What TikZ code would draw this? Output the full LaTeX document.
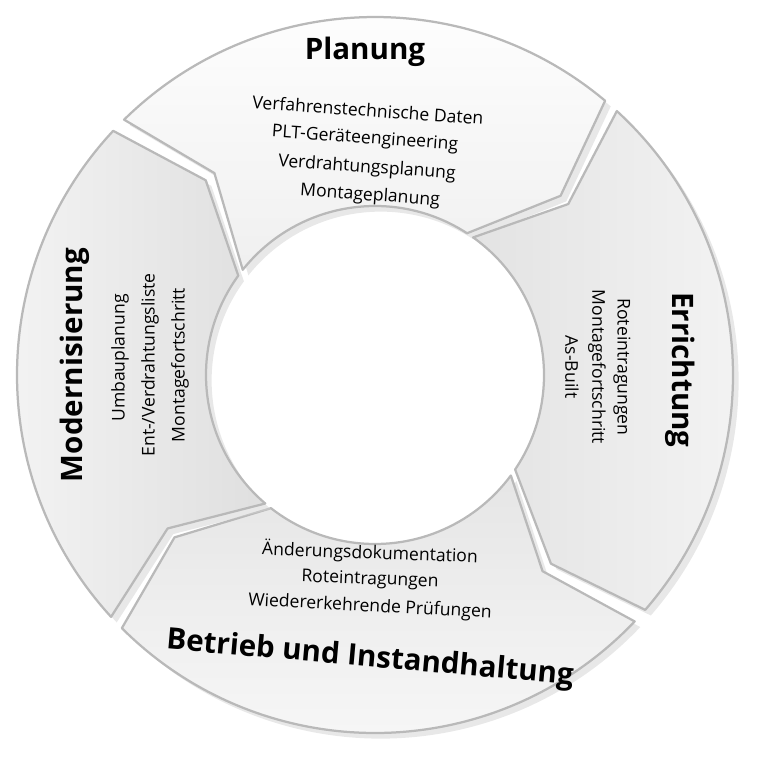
\documentclass[tikz,border=0pt]{standalone}
\usepackage{fontspec}
\setmainfont{Open Sans}
\begin{document}
\tikzset{seg/.style={draw=gray!55,line width=1.6pt,line join=round},
  ttl/.style={font=\fontsize{21}{24}\selectfont\bfseries},
  itm/.style={font=\fontsize{12.5}{15}\selectfont,inner sep=0.5pt}}
\newcommand{\Rout}{358}
\newcommand{\Rmid}{258}
\newcommand{\Rin}{169}
% segment from boundary #1 (start) to boundary #2 (end), clockwise
\newcommand{\segment}[3]{%
  \fill[gray!35,opacity=.5,xshift=4,yshift=-4]
    ({#1+3.5}:\Rout) arc[start angle={#1+3.5},end angle={#2+6},radius=\Rout]
    -- ({#2}:\Rmid) -- ({#2+13}:\Rin)
    arc[start angle={#2+13},end angle={#1+10.5},radius=\Rin]
    -- ({#1-2.5}:\Rmid) -- cycle;
  \draw[seg,#3]
    ({#1+3.5}:\Rout) arc[start angle={#1+3.5},end angle={#2+6},radius=\Rout]
    -- ({#2}:\Rmid) -- ({#2+13}:\Rin)
    arc[start angle={#2+13},end angle={#1+10.5},radius=\Rin]
    -- ({#1-2.5}:\Rmid) -- cycle;}
\begin{tikzpicture}[x=0.025cm,y=0.025cm]
\useasboundingbox (-375,-382) rectangle (385,375);
%segments
\segment{131}{44}{top color=white,bottom color=gray!12}
\segment{44}{-47}{left color=gray!22,right color=gray!8}
\segment{-47}{-141}{top color=gray!20,bottom color=gray!6}
\segment{-141}{-229}{left color=gray!8,right color=gray!25}
%Planung
\node[ttl] (plan) at (-10,323) {Planung};
\node[itm,rotate=-4] (plan1) at (-7,265) {Verfahrenstechnische Daten};
\node[itm,rotate=-4] (plan2) at (-10,236) {PLT-Geräteengineering};
\node[itm,rotate=-4] (plan3) at (-8,207) {Verdrahtungsplanung};
\node[itm,rotate=-4] (plan4) at (-5,179) {Montageplanung};
%Errichtung
\node[ttl,rotate=-90] (err) at (305,5) {Errichtung};
\node[itm,rotate=-90] (err1) at (247,8) {Roteintragungen};
\node[itm,rotate=-90] (err2) at (222,8) {Montagefortschritt};
\node[itm,rotate=-90] (err3) at (197,8) {As-Built};
%Betrieb
\node[itm,rotate=-2] (bet1) at (-5,-178) {Änderungsdokumentation};
\node[itm,rotate=-2] (bet2) at (-5,-205) {Roteintragungen};
\node[itm,rotate=-3] (bet3) at (-5,-232) {Wiedererkehrende Prüfungen};
\node[ttl,rotate=-5] (bet) at (-5,-284) {Betrieb und Instandhaltung};
%Modernisierung
\node[ttl,rotate=90] (mod) at (-300,10) {Modernisierung};
\node[itm,rotate=90] (mod1) at (-255,17) {Umbauplanung};
\node[itm,rotate=90] (mod2) at (-225,10) {Ent-/Verdrahtungsliste};
\node[itm,rotate=90] (mod3) at (-195,10) {Montagefortschritt};
\end{tikzpicture}
\end{document}
